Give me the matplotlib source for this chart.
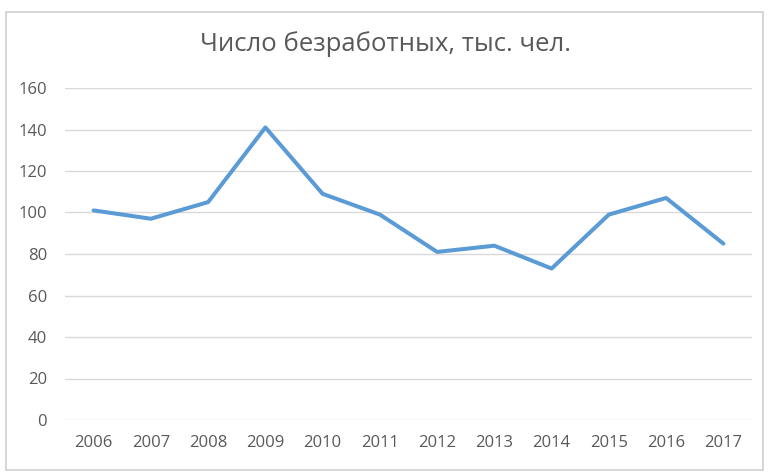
import matplotlib
matplotlib.use("Agg")
import matplotlib.pyplot as plt
from matplotlib.patches import Rectangle

years = ["2006", "2007", "2008", "2009", "2010", "2011", "2012", "2013", "2014", "2015", "2016", "2017"]
values = [101, 97, 105, 141, 109, 99, 81, 84, 73, 99, 107, 85]
yticks = [0, 20, 40, 60, 80, 100, 120, 140, 160]
title = "Число безработных, тыс. чел."

plt.rcParams['font.family'] = ['Open Sans', 'DejaVu Sans']

fig = plt.figure(figsize=(7.8, 4.76), dpi=100)
fig.patch.set_facecolor("white")
fig.patches.append(Rectangle((6/780, 1-470/476), 757/780, 458/476, transform=fig.transFigure,
                             fill=False, edgecolor="#D0D0D0", linewidth=1.2))

ax = fig.add_axes([65/780, 1-420/476, 687/780, 332/476])
x = list(range(len(years)))
ax.plot(x, values, color="#5B9BD5", linewidth=2.9, solid_joinstyle="round", solid_capstyle="round", zorder=3)

ax.set_xlim(-0.5, len(years) - 0.5)
ax.set_ylim(0, 160)
ax.set_yticks(yticks)
ax.set_yticklabels([str(t) for t in yticks])
ax.set_xticks(x)
ax.set_xticklabels(years)
ax.grid(axis="y", color="#D9D9D9", linewidth=1.0)
ax.set_axisbelow(True)
for s in ax.spines.values():
    s.set_visible(False)
ax.tick_params(axis="both", length=0, colors="#595959", labelsize=12)
ax.tick_params(axis="y", pad=13)
ax.tick_params(axis="x", pad=11)

fig.text(386/780, 1-44/476, title, ha="center", va="center", fontsize=18.5, color="#595959")

fig.savefig("out.png", dpi=100)
